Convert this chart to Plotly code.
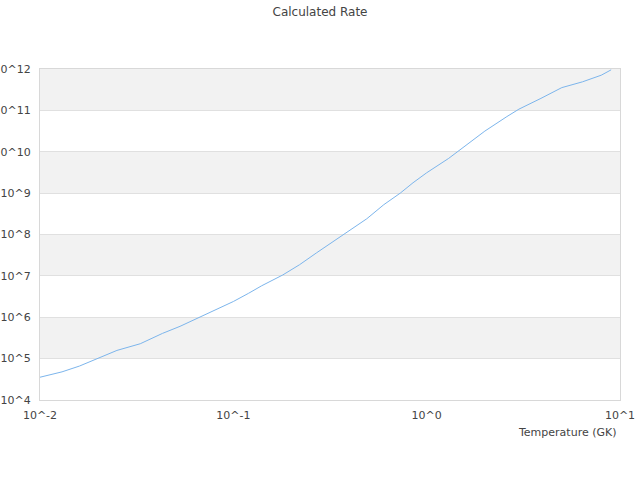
import plotly.graph_objects as go

# temperature grid (GK) and calculated rate
temperature = [0.01, 0.013, 0.016, 0.02, 0.025, 0.033, 0.043, 0.053, 0.065, 0.08,
               0.1, 0.12, 0.14, 0.18, 0.22, 0.27, 0.37, 0.49, 0.6, 0.73,
               0.85, 1.0, 1.3, 1.5, 2.0, 2.6, 3.0, 3.9, 5.0, 6.4, 8.0, 9.0]
rate = [3.55e4, 4.79e4, 6.61e4, 1.0e5, 1.58e5, 2.29e5, 4.07e5, 6.03e5, 9.33e5, 1.45e6,
        2.4e6, 3.8e6, 5.75e6, 1.05e7, 1.86e7, 3.63e7, 9.77e7, 2.4e8, 5.25e8, 1.0e9,
        1.78e9, 3.1e9, 6.92e9, 1.15e10, 3.16e10, 7.08e10, 1.07e11, 1.95e11, 3.55e11,
        4.9e11, 7.08e11, 9.55e11]

x_tickvals = [0.01, 0.1, 1, 10]
x_ticktext = ['10^-2', '10^-1', '10^0', '10^1']
y_tickvals = [10 ** p for p in range(4, 13)]
y_ticktext = ['10^%d' % p for p in range(4, 13)]

# alternating grey bands, one per decade
band_low = [1e5, 1e7, 1e9, 1e11]
band_high = [1e6, 1e8, 1e10, 1e12]

font = 'DejaVu Sans'
text_color = '#444444'

line = go.Scatter(x=temperature, y=rate, mode='lines',
                  line=dict(color='#7cb5ec', width=1), showlegend=False)
fig = go.Figure(line)

for lo, hi in zip(band_low, band_high):
    fig.add_shape(type='rect', xref='paper', yref='y', x0=0, x1=1, y0=lo, y1=hi,
                  fillcolor='#f2f2f2', line_width=0, layer='below')

fig.update_layout(
    width=640, height=480,
    margin=dict(l=40, r=20, t=69, b=80),
    paper_bgcolor='white', plot_bgcolor='white',
    font=dict(family=font, size=11, color=text_color),
    title=dict(text='Calculated Rate', x=0.5, xanchor='center', y=0.975, yanchor='middle',
               font=dict(family=font, size=12, color=text_color)),
    xaxis=dict(type='log', range=[-2, 1], tickvals=x_tickvals, ticktext=x_ticktext,
               showgrid=False, zeroline=False, showline=True, mirror=True,
               linecolor='#d8d8d8', linewidth=1, ticks='outside', ticklen=5,
               tickcolor='rgba(0,0,0,0)', automargin=False,
               tickfont=dict(size=11, color=text_color)),
    yaxis=dict(type='log', range=[4, 12], tickvals=y_tickvals, ticktext=y_ticktext,
               showgrid=True, gridcolor='#e0e0e0', gridwidth=1, zeroline=False,
               showline=True, mirror=True, linecolor='#d8d8d8', linewidth=1,
               ticks='outside', ticklen=6, tickcolor='rgba(0,0,0,0)', automargin=False,
               tickfont=dict(size=11, color=text_color)),
    annotations=[dict(text='Temperature (GK)', xref='paper', yref='paper', x=1, y=0,
                      xanchor='right', yanchor='top', yshift=-24, xshift=-1,
                      showarrow=False, font=dict(family=font, size=11, color=text_color))],
)

# drop the page's default body margin so the figure sits at the window's corner
fig.write_html('out.html', config={'displayModeBar': False},
               post_script="document.body.style.margin='0';")
